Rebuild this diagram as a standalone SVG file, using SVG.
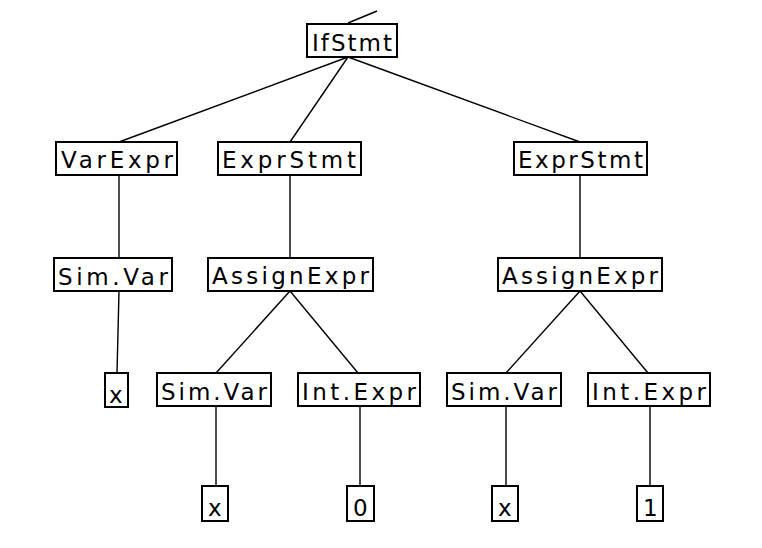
<svg xmlns="http://www.w3.org/2000/svg" width="762" height="548" viewBox="0 0 762 548">
<style>
.box{fill:#fff;stroke:#000;stroke-width:2}
.lbl{font-family:"DejaVu Sans",sans-serif;font-size:23px;fill:#000}
.edge{stroke:#000;stroke-width:1.4;fill:none}
</style>
<rect width="762" height="548" fill="#fff"/>
<g id="edges">
<line class="edge" x1="348" y1="23" x2="377" y2="11"/>
<line class="edge" x1="348" y1="57" x2="119" y2="142"/>
<line class="edge" x1="348" y1="57" x2="290" y2="142"/>
<line class="edge" x1="348" y1="57" x2="580" y2="142"/>
<line class="edge" x1="119" y1="175" x2="119" y2="258"/>
<line class="edge" x1="119" y1="291" x2="117" y2="373"/>
<line class="edge" x1="290" y1="175" x2="290" y2="258"/>
<line class="edge" x1="290" y1="291" x2="216" y2="373"/>
<line class="edge" x1="290" y1="291" x2="358" y2="373"/>
<line class="edge" x1="216" y1="406" x2="216" y2="486"/>
<line class="edge" x1="360" y1="406" x2="360" y2="486"/>
<line class="edge" x1="580" y1="175" x2="580" y2="258"/>
<line class="edge" x1="580" y1="291" x2="506" y2="373"/>
<line class="edge" x1="580" y1="291" x2="648" y2="373"/>
<line class="edge" x1="506" y1="406" x2="506" y2="486"/>
<line class="edge" x1="650" y1="406" x2="650" y2="486"/>
</g>
<g id="ifstmt"><rect class="box" x="307" y="24" width="90" height="33"/><text class="lbl" x="312" y="51" textLength="80" lengthAdjust="spacing">IfStmt</text></g>
<g id="varexpr"><rect class="box" x="56" y="142" width="121" height="33"/><text class="lbl" x="61" y="168" textLength="112" lengthAdjust="spacing">VarExpr</text></g>
<g id="exprstmt1"><rect class="box" x="218" y="142" width="143" height="33"/><text class="lbl" x="222" y="168" textLength="134" lengthAdjust="spacing">ExprStmt</text></g>
<g id="exprstmt2"><rect class="box" x="514" y="142" width="133" height="33"/><text class="lbl" x="518" y="168" textLength="125" lengthAdjust="spacing">ExprStmt</text></g>
<g id="simvar1"><rect class="box" x="54" y="258" width="118" height="33"/><text class="lbl" x="58" y="285" textLength="110" lengthAdjust="spacing">Sim.Var</text></g>
<g id="assign1"><rect class="box" x="208" y="258" width="165" height="33"/><text class="lbl" x="212" y="284" textLength="157" lengthAdjust="spacing">AssignExpr</text></g>
<g id="assign2"><rect class="box" x="498" y="258" width="164" height="33"/><text class="lbl" x="502" y="284" textLength="156" lengthAdjust="spacing">AssignExpr</text></g>
<g id="x1"><rect class="box" x="105" y="373" width="23" height="34"/><text class="lbl" x="109" y="403">x</text></g>
<g id="simvar2"><rect class="box" x="157" y="373" width="114" height="33"/><text class="lbl" x="161" y="400" textLength="106" lengthAdjust="spacing">Sim.Var</text></g>
<g id="intexpr1"><rect class="box" x="298" y="373" width="122" height="33"/><text class="lbl" x="302" y="400" textLength="114" lengthAdjust="spacing">Int.Expr</text></g>
<g id="simvar3"><rect class="box" x="447" y="373" width="114" height="33"/><text class="lbl" x="451" y="400" textLength="106" lengthAdjust="spacing">Sim.Var</text></g>
<g id="intexpr2"><rect class="box" x="588" y="373" width="122" height="33"/><text class="lbl" x="592" y="400" textLength="114" lengthAdjust="spacing">Int.Expr</text></g>
<g id="x2"><rect class="box" x="202" y="486" width="26" height="35"/><text class="lbl" x="208" y="516">x</text></g>
<g id="zero"><rect class="box" x="347" y="486" width="27" height="35"/><text class="lbl" x="353" y="516">0</text></g>
<g id="x3"><rect class="box" x="492" y="486" width="26" height="35"/><text class="lbl" x="498" y="516">x</text></g>
<g id="one"><rect class="box" x="637" y="486" width="26" height="35"/><text class="lbl" x="643" y="516">1</text></g>
</svg>
